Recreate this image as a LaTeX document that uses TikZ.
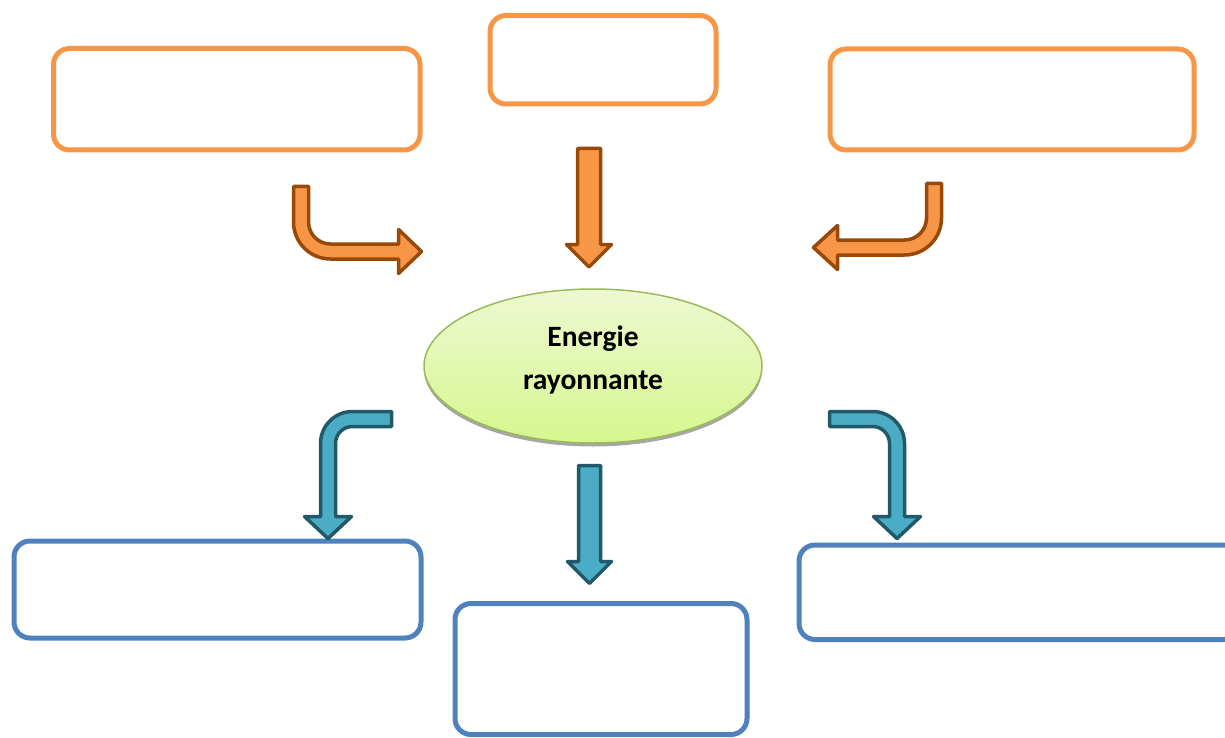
\documentclass[tikz,border=0pt]{standalone}
\usepackage{fontspec}
\setmainfont{Carlito}
\usetikzlibrary{shapes.geometric}
\definecolor{boxorange}{HTML}{F79646}
\definecolor{boxblue}{HTML}{4F81BD}
\definecolor{arroworange}{HTML}{F79646}
\definecolor{arrowbrown}{HTML}{984807}
\definecolor{arrowteal}{HTML}{4BACC6}
\definecolor{arrowdark}{HTML}{215968}
\definecolor{ellborder}{HTML}{9BBB59}
\definecolor{elltop}{HTML}{EEF8D2}
\definecolor{ellbottom}{HTML}{D6F78E}
\tikzset{
  inbox/.style={draw=boxorange, line width=5pt, rounded corners=16pt,
    rectangle, inner sep=0pt},
  outbox/.style={draw=boxblue, line width=5pt, rounded corners=16pt,
    rectangle, inner sep=0pt},
  inarrow/.style={fill=arroworange, draw=arrowbrown, line width=3.5pt,
    line join=round},
  outarrow/.style={fill=arrowteal, draw=arrowdark, line width=3.5pt,
    line join=round},
}
\begin{document}
\begin{tikzpicture}[x=1pt, y=-1pt]
\useasboundingbox (0,0) rectangle (1225,738);

% sources (top row)
\node[inbox, minimum width=366.5pt, minimum height=101.5pt] (srcL) at (236.75,99.25) {};
\node[inbox, minimum width=226pt, minimum height=88.5pt] (srcC) at (603,59.75) {};
\node[inbox, minimum width=364pt, minimum height=101pt] (srcR) at (1012,99.5) {};

% uses (bottom row)
\node[outbox, minimum width=407pt, minimum height=97pt] (useL) at (217.5,589.5) {};
\node[outbox, minimum width=292pt, minimum height=131pt] (useC) at (601,669) {};
\node[outbox, minimum width=441pt, minimum height=94.5pt] (useR) at (1019.5,592.25) {};

% central ellipse with its shadow
\fill[black!35] (593,369.5) ellipse[x radius=169pt, y radius=77pt];
\node[ellipse, draw=ellborder, line width=1.5pt, top color=elltop,
  bottom color=ellbottom, minimum width=338pt, minimum height=154pt,
  inner sep=0pt] (core) at (593,366) {};
\node[align=center, inner sep=0pt, font=\bfseries\fontsize{29.5}{43}\selectfont]
  (corelabel) at (593,360) {Energie\\rayonnante};

% incoming arrows (unitless radii follow the downward y axis)
\draw[inarrow] (293.5,186.5) -- (308.5,186.5) -- (308.5,222)
  arc[start angle=180, end angle=90, radius=22] -- (398.5,244)
  -- (398.5,229.5) -- (421.5,251.5) -- (398.5,273.5) -- (398.5,259)
  -- (330.5,259) arc[start angle=90, end angle=180, radius=37] -- cycle;
\draw[inarrow] (577.5,148.5) -- (600.5,148.5) -- (600.5,244.5)
  -- (611.5,244.5) -- (589,267) -- (566.5,244.5) -- (577.5,244.5) -- cycle;
\draw[inarrow] (941.5,183.5) -- (926.5,183.5) -- (926.5,218)
  arc[start angle=0, end angle=90, radius=22] -- (837.5,240)
  -- (837.5,225.5) -- (813.5,247.5) -- (837.5,269.5) -- (837.5,255)
  -- (904.5,255) arc[start angle=90, end angle=0, radius=37] -- cycle;

% outgoing arrows
\draw[outarrow] (391.5,411.5) -- (352.5,411.5)
  arc[start angle=270, end angle=180, radius=32] -- (320.5,516.5)
  -- (304.5,516.5) -- (328,538.5) -- (351.5,516.5) -- (335.5,516.5)
  -- (335.5,443.5) arc[start angle=180, end angle=270, radius=17]
  -- (391.5,426.5) -- cycle;
\draw[outarrow] (578.5,465.5) -- (600.5,465.5) -- (600.5,561.5)
  -- (611.5,561.5) -- (589.5,583.5) -- (567.5,561.5) -- (578.5,561.5) -- cycle;
\draw[outarrow] (829.5,411.5) -- (872.5,411.5)
  arc[start angle=270, end angle=360, radius=32] -- (904.5,516.5)
  -- (920.5,516.5) -- (897,538.5) -- (873.5,516.5) -- (889.5,516.5)
  -- (889.5,443.5) arc[start angle=360, end angle=270, radius=17]
  -- (829.5,426.5) -- cycle;
\end{tikzpicture}
\end{document}
